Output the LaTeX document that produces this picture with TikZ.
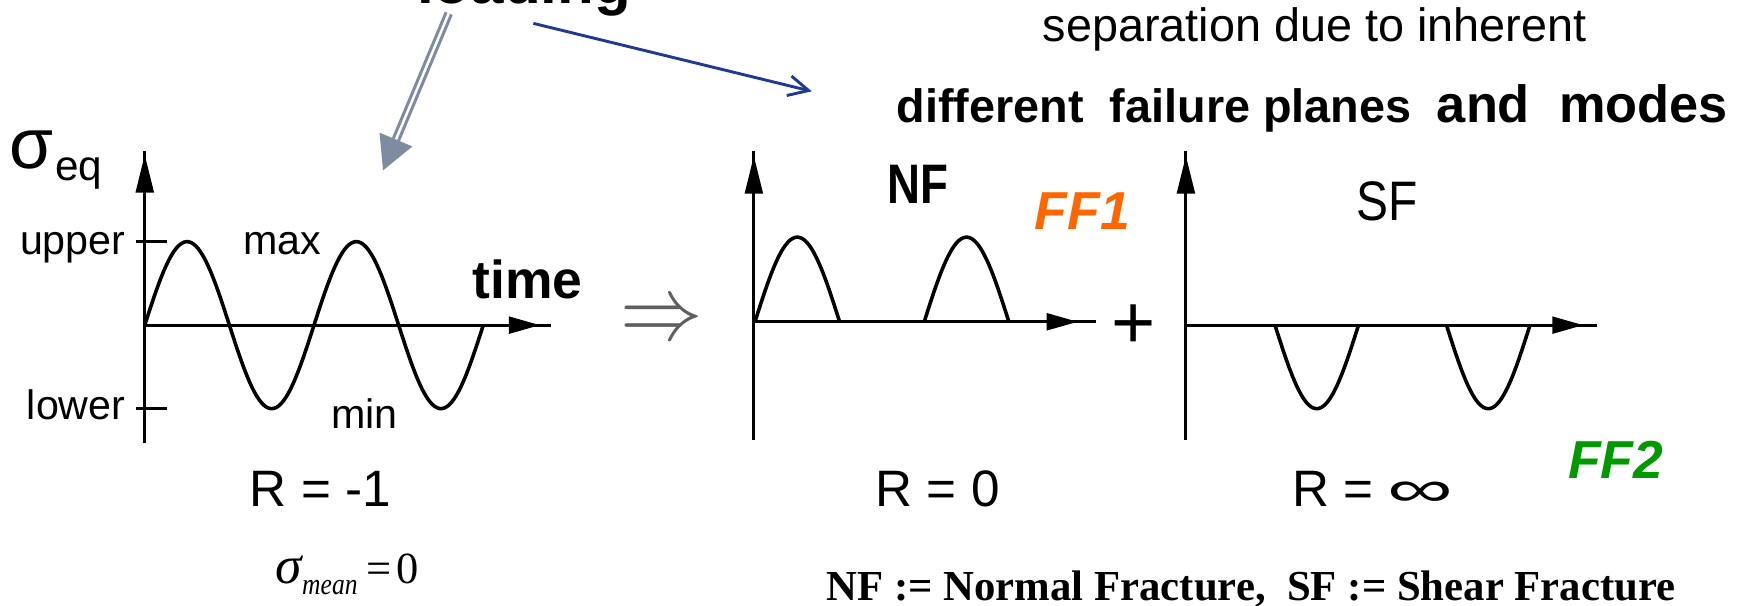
\documentclass[tikz,border=0pt]{standalone}
\usepackage{fontspec}
\usetikzlibrary{arrows.meta,calc}
\newfontfamily\arialf{Liberation Sans}
\newfontfamily\tnrf{Liberation Serif}
\newcommand\fsz[1]{\fontsize{#1}{#1}\selectfont}
\definecolor{arrowgray}{RGB}{127,139,160}
\definecolor{navyblue}{RGB}{32,56,150}
\definecolor{ffone}{RGB}{255,102,0}
\definecolor{fftwo}{RGB}{0,153,0}
\definecolor{implgray}{RGB}{95,95,95}
\begin{document}
\begin{tikzpicture}[x=0.5pt,y=-0.5pt,
  lbl/.style={inner sep=0pt, font=\arialf\fsz{18.5pt}},
  rlbl/.style={inner sep=0pt, anchor=base west, font=\arialf\fsz{23pt}},
  axisline/.style={line width=1.35pt},
  axtipv/.style={line width=1.35pt, -{Triangle[length=17pt,width=8pt]}},
  axtiph/.style={line width=1.35pt, -{Triangle[length=14pt,width=7.5pt]}},
  wave/.style={line width=1.6pt},
  ffstyle/.style={inner sep=0pt, anchor=base west, font=\arialf\bfseries\itshape\fsz{24pt}}]
\useasboundingbox (0,0) rectangle (1568,544);
\clip (0,0) rectangle (1568,544);

% ---------- top texts
\node[inner sep=0pt, anchor=base east, font=\arialf\bfseries\fsz{27pt}] (load) at (567,3) {loading};
\node[inner sep=0pt, anchor=base west, font=\arialf\fsz{21pt}] (sep) at (936,37) {separation due to inherent};
\node[inner sep=0pt, anchor=base west, font=\arialf\bfseries\fsz{21pt}] (diff) at (805,110) {different\ \ failure planes};
\node[inner sep=0pt, anchor=base west, font=\arialf\bfseries\fsz{23.5pt}] (modes) at (1290,110) {and\ \ modes};

% ---------- arrows from the top
\coordinate (gS) at (403,12);
\coordinate (gT) at (344,153);
\coordinate (gB) at ($(gT)!15pt!(gS)$);
\draw[arrowgray, line width=1.4pt, double=white, double distance=1.1pt] (gS) -- (gB);
\fill[arrowgray] (gT) -- ($(gB)!8pt!90:(gT)$) -- ($(gB)!8pt!-90:(gT)$) -- cycle;

\coordinate (bS) at (479,21);
\coordinate (bT) at (729,82);
\draw[navyblue, line width=1.3pt, -{Straight Barb[length=9pt,width=9pt]}] (bS) -- (bT);

% ---------- left plot
\coordinate (Ab) at (130,398);
\coordinate (At) at (130,136);
\coordinate (Atb) at (130,180);
\coordinate (Att) at (130,139);
\coordinate (O1) at (130,292);
\coordinate (Ae) at (495,292);
\coordinate (Ahb) at (450,292);
\coordinate (Aht) at (485,292);
\draw[axisline] (Ab) -- (At);
\draw[axtipv] (Atb) -- (Att);
\draw[axisline] (O1) -- (Ae);
\draw[axtiph] (Ahb) -- (Aht);
\coordinate (tu1) at (122,217); \coordinate (tu2) at (150,217);
\coordinate (tl1) at (122,367); \coordinate (tl2) at (150,367);
\draw[axisline] (tu1) -- (tu2);
\draw[axisline] (tl1) -- (tl2);
\draw[wave] plot[domain=0:304, samples=140] ({130+\x}, {292-75*sin(2.3684*\x)});

\node[inner sep=0pt, anchor=base west, font=\arialf\fsz{32pt}] (sig) at (8,151) {σ};
\node[inner sep=0pt, anchor=base west, font=\arialf\fsz{19pt}] (eq) at (49,162) {eq};
\node[lbl, anchor=base east] (upper) at (113,229) {upper};
\node[lbl, anchor=base east] (lower) at (113,377) {lower};
\node[lbl, anchor=base west] (max) at (218,229) {max};
\node[lbl, anchor=base west] (min) at (297,385) {min};
\node[inner sep=0pt, anchor=base west, font=\arialf\bfseries\fsz{24pt}] (time) at (424,268) {time};
\node[rlbl] (R1) at (224,455) {R = -1};
\node[inner sep=0pt, anchor=base west, font=\tnrf\fsz{20pt}] (smean) at (247,524)
  {\makebox[12pt][l]{\itshape\fsz{24pt}σ}\raisebox{-5pt}{\makebox[25pt][l]{\itshape\fsz{13.5pt}\scalebox{0.85}[1]{mean}}}\hspace{4pt}=\hspace{2pt}0};

% ---------- implication
\node[inner sep=0pt, text=implgray] (impl) at (594,290) {\scalebox{3.7}[4.1]{$\Rightarrow$}};

% ---------- NF plot
\coordinate (Bb) at (677,395);
\coordinate (Bt) at (677,136);
\coordinate (Btb) at (677,180);
\coordinate (Btt) at (677,140);
\coordinate (O2) at (677,289);
\coordinate (Be) at (984,289);
\coordinate (Bhb) at (935,289);
\coordinate (Bht) at (968,289);
\draw[axisline] (Bb) -- (Bt);
\draw[axtipv] (Btb) -- (Btt);
\draw[axisline] (O2) -- (Be);
\draw[axtiph] (Bhb) -- (Bht);
\draw[wave] plot[domain=0:76, samples=60] ({678+\x}, {289-76*sin(2.3684*\x)});
\draw[wave] plot[domain=0:76, samples=60] ({830+\x}, {289-76*sin(2.3684*\x)});
\node[inner sep=0pt, anchor=base west, font=\arialf\bfseries\fsz{25pt}] (NF) at (797,183) {\scalebox{0.82}[1]{NF}};
\node[ffstyle, text=ffone] (FF1) at (929,206) {FF1};
\node[rlbl] (R0) at (786,455) {R = 0};

% ---------- plus
\node[inner sep=0pt, anchor=base, font=\arialf\fsz{34pt}] (plus) at (1018,313) {+};

% ---------- SF plot
\coordinate (Cb) at (1065,395);
\coordinate (Ct) at (1065,136);
\coordinate (Ctb) at (1065,180);
\coordinate (Ctt) at (1065,140);
\coordinate (O3) at (1065,292);
\coordinate (Ce) at (1434,292);
\coordinate (Chb) at (1385,292);
\coordinate (Cht) at (1422,292);
\draw[axisline] (Cb) -- (Ct);
\draw[axtipv] (Ctb) -- (Ctt);
\draw[axisline] (O3) -- (Ce);
\draw[axtiph] (Chb) -- (Cht);
\draw[wave] plot[domain=0:75, samples=60] ({1145+\x}, {292+75*sin(2.4*\x)});
\draw[wave] plot[domain=0:75, samples=60] ({1299+\x}, {292+75*sin(2.4*\x)});
\node[inner sep=0pt, anchor=base west, font=\arialf\fsz{25pt}] (SF) at (1218,198) {\scalebox{0.86}[1]{SF}};
\node[ffstyle, text=fftwo] (FF2) at (1408,430) {FF2};
\node[rlbl] (Rinf) at (1160,455) {R = \scalebox{1.8}[1]{∞}};

% ---------- legend
\node[inner sep=0pt, anchor=base west, font=\tnrf\bfseries\fsz{19.2pt}] (legend) at (742,539)
  {NF := Normal Fracture,\ \ SF := Shear Fracture};
\end{tikzpicture}
\end{document}
